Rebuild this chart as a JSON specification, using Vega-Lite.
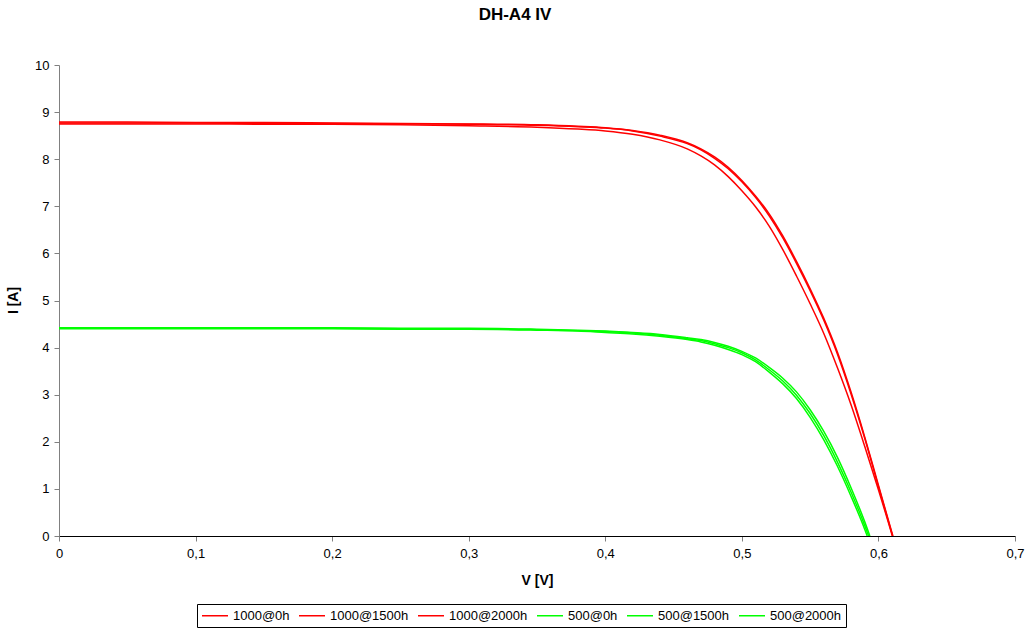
{
  "$schema": "https://vega.github.io/schema/vega-lite/v6.json",
  "width": 956,
  "height": 471,
  "autosize": "none",
  "padding": {"left": 59, "top": 65, "right": 14, "bottom": 94},
  "background": "white",
  "title": {
    "text": "DH-A4 IV",
    "fontSize": 17,
    "font": "Liberation Sans",
    "fontWeight": "bold",
    "color": "black",
    "anchor": "middle",
    "offset": 35,
    "dx": -22
  },
  "config": {
    "view": {"stroke": null},
    "font": "Liberation Sans"
  },
  "datasets": {
    "iv": [
      {"s":"1000@0h","V":0,"I":8.79},{"s":"1000@0h","V":0.05,"I":8.79},{"s":"1000@0h","V":0.1,"I":8.78},{"s":"1000@0h","V":0.15,"I":8.78},{"s":"1000@0h","V":0.2,"I":8.77},{"s":"1000@0h","V":0.25,"I":8.76},{"s":"1000@0h","V":0.3,"I":8.75},{"s":"1000@0h","V":0.35,"I":8.73},{"s":"1000@0h","V":0.38,"I":8.70},{"s":"1000@0h","V":0.4,"I":8.67},{"s":"1000@0h","V":0.42,"I":8.61},{"s":"1000@0h","V":0.44,"I":8.51},{"s":"1000@0h","V":0.46,"I":8.35},{"s":"1000@0h","V":0.47,"I":8.22},{"s":"1000@0h","V":0.48,"I":8.05},{"s":"1000@0h","V":0.49,"I":7.83},{"s":"1000@0h","V":0.5,"I":7.55},{"s":"1000@0h","V":0.51,"I":7.22},{"s":"1000@0h","V":0.52,"I":6.84},{"s":"1000@0h","V":0.53,"I":6.37},{"s":"1000@0h","V":0.54,"I":5.83},{"s":"1000@0h","V":0.55,"I":5.25},{"s":"1000@0h","V":0.56,"I":4.62},{"s":"1000@0h","V":0.57,"I":3.90},{"s":"1000@0h","V":0.58,"I":3.05},{"s":"1000@0h","V":0.59,"I":2.10},{"s":"1000@0h","V":0.6,"I":1.08},{"s":"1000@0h","V":0.61,"I":0.06},{"s":"1000@0h","V":0.6106,"I":0},
      {"s":"1000@1500h","V":0,"I":8.77},{"s":"1000@1500h","V":0.05,"I":8.77},{"s":"1000@1500h","V":0.1,"I":8.77},{"s":"1000@1500h","V":0.15,"I":8.76},{"s":"1000@1500h","V":0.2,"I":8.76},{"s":"1000@1500h","V":0.25,"I":8.75},{"s":"1000@1500h","V":0.3,"I":8.74},{"s":"1000@1500h","V":0.35,"I":8.72},{"s":"1000@1500h","V":0.38,"I":8.69},{"s":"1000@1500h","V":0.4,"I":8.66},{"s":"1000@1500h","V":0.42,"I":8.60},{"s":"1000@1500h","V":0.44,"I":8.49},{"s":"1000@1500h","V":0.46,"I":8.33},{"s":"1000@1500h","V":0.47,"I":8.20},{"s":"1000@1500h","V":0.48,"I":8.02},{"s":"1000@1500h","V":0.49,"I":7.80},{"s":"1000@1500h","V":0.5,"I":7.52},{"s":"1000@1500h","V":0.51,"I":7.19},{"s":"1000@1500h","V":0.52,"I":6.80},{"s":"1000@1500h","V":0.53,"I":6.33},{"s":"1000@1500h","V":0.54,"I":5.79},{"s":"1000@1500h","V":0.55,"I":5.21},{"s":"1000@1500h","V":0.56,"I":4.58},{"s":"1000@1500h","V":0.57,"I":3.86},{"s":"1000@1500h","V":0.58,"I":3.01},{"s":"1000@1500h","V":0.59,"I":2.07},{"s":"1000@1500h","V":0.6,"I":1.05},{"s":"1000@1500h","V":0.61,"I":0.04},{"s":"1000@1500h","V":0.6104,"I":0},
      {"s":"1000@2000h","V":0,"I":8.75},{"s":"1000@2000h","V":0.05,"I":8.75},{"s":"1000@2000h","V":0.1,"I":8.75},{"s":"1000@2000h","V":0.15,"I":8.74},{"s":"1000@2000h","V":0.2,"I":8.74},{"s":"1000@2000h","V":0.25,"I":8.73},{"s":"1000@2000h","V":0.3,"I":8.71},{"s":"1000@2000h","V":0.35,"I":8.68},{"s":"1000@2000h","V":0.38,"I":8.64},{"s":"1000@2000h","V":0.4,"I":8.60},{"s":"1000@2000h","V":0.42,"I":8.53},{"s":"1000@2000h","V":0.44,"I":8.41},{"s":"1000@2000h","V":0.46,"I":8.22},{"s":"1000@2000h","V":0.47,"I":8.07},{"s":"1000@2000h","V":0.48,"I":7.88},{"s":"1000@2000h","V":0.49,"I":7.63},{"s":"1000@2000h","V":0.5,"I":7.33},{"s":"1000@2000h","V":0.51,"I":6.99},{"s":"1000@2000h","V":0.52,"I":6.58},{"s":"1000@2000h","V":0.53,"I":6.08},{"s":"1000@2000h","V":0.54,"I":5.52},{"s":"1000@2000h","V":0.55,"I":4.93},{"s":"1000@2000h","V":0.56,"I":4.30},{"s":"1000@2000h","V":0.57,"I":3.57},{"s":"1000@2000h","V":0.58,"I":2.78},{"s":"1000@2000h","V":0.59,"I":1.90},{"s":"1000@2000h","V":0.6,"I":0.98},{"s":"1000@2000h","V":0.61,"I":0.02},{"s":"1000@2000h","V":0.6102,"I":0},
      {"s":"500@0h","V":0,"I":4.42},{"s":"500@0h","V":0.05,"I":4.42},{"s":"500@0h","V":0.1,"I":4.42},{"s":"500@0h","V":0.15,"I":4.42},{"s":"500@0h","V":0.2,"I":4.42},{"s":"500@0h","V":0.25,"I":4.41},{"s":"500@0h","V":0.3,"I":4.41},{"s":"500@0h","V":0.35,"I":4.39},{"s":"500@0h","V":0.38,"I":4.37},{"s":"500@0h","V":0.4,"I":4.35},{"s":"500@0h","V":0.42,"I":4.32},{"s":"500@0h","V":0.44,"I":4.28},{"s":"500@0h","V":0.46,"I":4.21},{"s":"500@0h","V":0.47,"I":4.17},{"s":"500@0h","V":0.48,"I":4.11},{"s":"500@0h","V":0.49,"I":4.03},{"s":"500@0h","V":0.5,"I":3.92},{"s":"500@0h","V":0.51,"I":3.78},{"s":"500@0h","V":0.52,"I":3.58},{"s":"500@0h","V":0.53,"I":3.35},{"s":"500@0h","V":0.54,"I":3.06},{"s":"500@0h","V":0.55,"I":2.68},{"s":"500@0h","V":0.56,"I":2.22},{"s":"500@0h","V":0.57,"I":1.67},{"s":"500@0h","V":0.58,"I":1.02},{"s":"500@0h","V":0.59,"I":0.30},{"s":"500@0h","V":0.5937,"I":0},
      {"s":"500@1500h","V":0,"I":4.41},{"s":"500@1500h","V":0.05,"I":4.41},{"s":"500@1500h","V":0.1,"I":4.41},{"s":"500@1500h","V":0.15,"I":4.41},{"s":"500@1500h","V":0.2,"I":4.41},{"s":"500@1500h","V":0.25,"I":4.40},{"s":"500@1500h","V":0.3,"I":4.40},{"s":"500@1500h","V":0.35,"I":4.38},{"s":"500@1500h","V":0.38,"I":4.36},{"s":"500@1500h","V":0.4,"I":4.34},{"s":"500@1500h","V":0.42,"I":4.31},{"s":"500@1500h","V":0.44,"I":4.26},{"s":"500@1500h","V":0.46,"I":4.19},{"s":"500@1500h","V":0.47,"I":4.15},{"s":"500@1500h","V":0.48,"I":4.08},{"s":"500@1500h","V":0.49,"I":4.00},{"s":"500@1500h","V":0.5,"I":3.89},{"s":"500@1500h","V":0.51,"I":3.74},{"s":"500@1500h","V":0.52,"I":3.53},{"s":"500@1500h","V":0.53,"I":3.29},{"s":"500@1500h","V":0.54,"I":2.99},{"s":"500@1500h","V":0.55,"I":2.60},{"s":"500@1500h","V":0.56,"I":2.13},{"s":"500@1500h","V":0.57,"I":1.57},{"s":"500@1500h","V":0.58,"I":0.93},{"s":"500@1500h","V":0.59,"I":0.22},{"s":"500@1500h","V":0.5928,"I":0},
      {"s":"500@2000h","V":0,"I":4.40},{"s":"500@2000h","V":0.05,"I":4.40},{"s":"500@2000h","V":0.1,"I":4.40},{"s":"500@2000h","V":0.15,"I":4.40},{"s":"500@2000h","V":0.2,"I":4.40},{"s":"500@2000h","V":0.25,"I":4.39},{"s":"500@2000h","V":0.3,"I":4.39},{"s":"500@2000h","V":0.35,"I":4.37},{"s":"500@2000h","V":0.38,"I":4.35},{"s":"500@2000h","V":0.4,"I":4.32},{"s":"500@2000h","V":0.42,"I":4.29},{"s":"500@2000h","V":0.44,"I":4.24},{"s":"500@2000h","V":0.46,"I":4.17},{"s":"500@2000h","V":0.47,"I":4.12},{"s":"500@2000h","V":0.48,"I":4.05},{"s":"500@2000h","V":0.49,"I":3.96},{"s":"500@2000h","V":0.5,"I":3.85},{"s":"500@2000h","V":0.51,"I":3.70},{"s":"500@2000h","V":0.52,"I":3.48},{"s":"500@2000h","V":0.53,"I":3.23},{"s":"500@2000h","V":0.54,"I":2.92},{"s":"500@2000h","V":0.55,"I":2.52},{"s":"500@2000h","V":0.56,"I":2.04},{"s":"500@2000h","V":0.57,"I":1.48},{"s":"500@2000h","V":0.58,"I":0.84},{"s":"500@2000h","V":0.59,"I":0.14},{"s":"500@2000h","V":0.5918,"I":0}
    ]
  },
  "data": {"name": "iv"},
  "mark": {"type": "line", "strokeWidth": 1.5, "clip": true, "interpolate": "monotone"},
  "encoding": {
    "x": {
      "field": "V",
      "type": "quantitative",
      "scale": {"domain": [0, 0.7], "nice": false, "zero": false},
      "axis": {
        "title": "V [V]",
        "values": [0, 0.1, 0.2, 0.3, 0.4, 0.5, 0.6, 0.7],
        "format": ".1~f",
        "labelExpr": "replace(datum.label, '.', ',')",
        "grid": false,
        "domainColor": "black",
        "domainWidth": 1,
        "tickColor": "#808080",
        "tickSize": 5,
        "labelFontSize": 13,
        "labelColor": "black",
        "labelPadding": 6,
        "labelFlush": false,
        "titleFontSize": 14,
        "titleFontWeight": "bold",
        "titleColor": "black",
        "titleBaseline": "top",
        "titleY": 37
      }
    },
    "y": {
      "field": "I",
      "type": "quantitative",
      "scale": {"domain": [0, 10], "nice": false},
      "axis": {
        "title": "I [A]",
        "values": [0, 1, 2, 3, 4, 5, 6, 7, 8, 9, 10],
        "grid": false,
        "domainColor": "#808080",
        "domainWidth": 1,
        "tickColor": "#808080",
        "tickSize": 5,
        "labelFontSize": 13,
        "labelColor": "black",
        "labelPadding": 5,
        "labelFlush": false,
        "titleFontSize": 14,
        "titleFontWeight": "bold",
        "titleColor": "black",
        "titleAngle": 270,
        "titleAlign": "center",
        "titleBaseline": "bottom",
        "titleX": -39,
        "titleY": 235
      }
    },
    "color": {
      "field": "s",
      "type": "nominal",
      "scale": {
        "domain": ["1000@0h", "1000@1500h", "1000@2000h", "500@0h", "500@1500h", "500@2000h"],
        "range": ["#FF0000", "#FF0000", "#FF0000", "#00FF00", "#00FF00", "#00FF00"]
      },
      "legend": {
        "title": null,
        "orient": "none",
        "legendX": 138,
        "legendY": 539,
        "direction": "horizontal",
        "columns": 6,
        "symbolType": "M-1,0H3",
        "symbolSize": 169,
        "symbolStrokeWidth": 1.5,
        "labelFontSize": 13,
        "labelColor": "black",
        "labelOffset": 17,
        "columnPadding": 6,
        "padding": 4,
        "strokeColor": "black",
        "fillColor": "white"
      }
    }
  }
}
